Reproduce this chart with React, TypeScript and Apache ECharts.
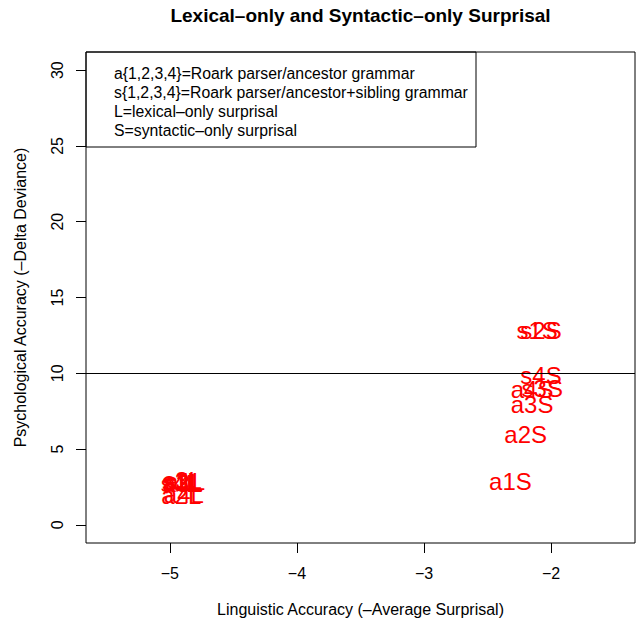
import React, { useEffect, useRef } from "react";
import * as echarts from "echarts";

// ---- data ----
const pointLabels = [
  "s1L", "s2L", "s3L", "s4L", "a1L", "a3L", "a2L", "a4L",
  "a1S", "a2S", "a3S", "a4S", "s3S", "s4S", "s1S", "s2S",
];
const linguisticAccuracy = [
  -4.91, -4.89, -4.9, -4.92, -4.88, -4.9, -4.91, -4.89,
  -2.32, -2.2, -2.15, -2.15, -2.07, -2.08, -2.11, -2.08,
];
const psychologicalAccuracy = [
  2.85, 2.8, 2.9, 2.75, 2.85, 2.7, 1.95, 2.0,
  2.83, 5.93, 7.91, 8.9, 9.0, 9.82, 12.85, 12.85,
];
const xTicks = [-5, -4, -3, -2];
const yTicks = [0, 5, 10, 15, 20, 25, 30];
const referenceLine = 10;
const legendLines = [
  "a{1,2,3,4}=Roark parser/ancestor grammar",
  "s{1,2,3,4}=Roark parser/ancestor+sibling grammar",
  "L=lexical\u2013only surprisal",
  "S=syntactic\u2013only surprisal",
];
const titleText = "Lexical\u2013only and Syntactic\u2013only Surprisal";
const xTitle = "Linguistic Accuracy (\u2013Average Surprisal)";
const yTitle = "Psychological Accuracy (\u2013Delta Deviance)";

const FONT = '"Liberation Sans", Arial, Helvetica, sans-serif';

const fmt = (v: number) => (v < 0 ? "\u2212" + Math.abs(v) : String(v));

export default function App() {
  const ref = useRef<HTMLDivElement>(null);
  useEffect(() => {
    if (!ref.current) return;
    const chart = echarts.init(ref.current, undefined, { renderer: "svg" });
    const points = linguisticAccuracy.map((x, i) => [x, psychologicalAccuracy[i]]);
    const gridLeft = 86, gridTop = 52, gridRight = 4, gridBottom = 82;
    const plotCenterX = gridLeft + (639 - gridLeft - gridRight) / 2;
    chart.setOption({
      animation: false,
      backgroundColor: "#ffffff",
      textStyle: { fontFamily: FONT },
      grid: {
        left: gridLeft, top: gridTop, right: gridRight, bottom: gridBottom,
        show: true, borderColor: "#000", borderWidth: 1, backgroundColor: "transparent",
      },
      xAxis: {
        type: "value", min: -5.66, max: -1.34,
        name: xTitle, nameLocation: "middle", nameGap: 58,
        nameTextStyle: { fontSize: 16, color: "#000", fontFamily: FONT },
        axisLine: { show: false, onZero: false },
        splitLine: { show: false },
        axisTick: { show: true, customValues: xTicks, length: 10, lineStyle: { color: "#000" } },
        axisLabel: { customValues: xTicks, margin: 22, fontSize: 16, color: "#000", fontFamily: FONT, formatter: fmt },
      },
      yAxis: {
        type: "value", min: -1.2, max: 31.2,
        name: yTitle, nameLocation: "middle", nameGap: 58,
        nameTextStyle: { fontSize: 16, color: "#000", fontFamily: FONT },
        axisLine: { show: false, onZero: false },
        splitLine: { show: false },
        axisTick: { show: true, customValues: yTicks, length: 10, lineStyle: { color: "#000" } },
        axisLabel: { customValues: yTicks, rotate: 90, margin: 21, fontSize: 16, color: "#000", fontFamily: FONT, formatter: fmt },
      },
      graphic: [
        {
          type: "text", x: plotCenterX, y: 15,
          style: { text: titleText, font: `bold 19px ${FONT}`, fill: "#000", align: "center", verticalAlign: "middle" },
        },
        {
          type: "rect", shape: { x: 86, y: 52, width: 390, height: 95 },
          style: { fill: "transparent", stroke: "#000", lineWidth: 1 },
        },
        ...legendLines.map((t, i) => ({
          type: "text", x: 114, y: 73 + i * 19,
          style: { text: t, font: `15.8px ${FONT}`, fill: "#000", align: "left", verticalAlign: "middle" },
        })),
      ],
      series: [
        {
          type: "scatter", data: [], symbolSize: 0, silent: true,
          markLine: {
            silent: true, symbol: ["none", "none"], label: { show: false },
            lineStyle: { color: "#000", width: 1, type: "solid" },
            data: [{ yAxis: referenceLine }],
          },
        },
        {
          type: "custom",
          data: points,
          silent: true,
          renderItem: (params: any, api: any) => {
            const p = api.coord([api.value(0), api.value(1)]);
            return {
              type: "text", x: p[0], y: p[1],
              style: {
                text: pointLabels[params.dataIndex], fill: "#ff0000",
                font: `24px ${FONT}`, align: "center", verticalAlign: "middle",
              },
            };
          },
        },
      ],
    });
    return () => chart.dispose();
  }, []);
  return <div ref={ref} style={{ position: "fixed", left: 0, top: 0, width: 639, height: 625 }} />;
}
